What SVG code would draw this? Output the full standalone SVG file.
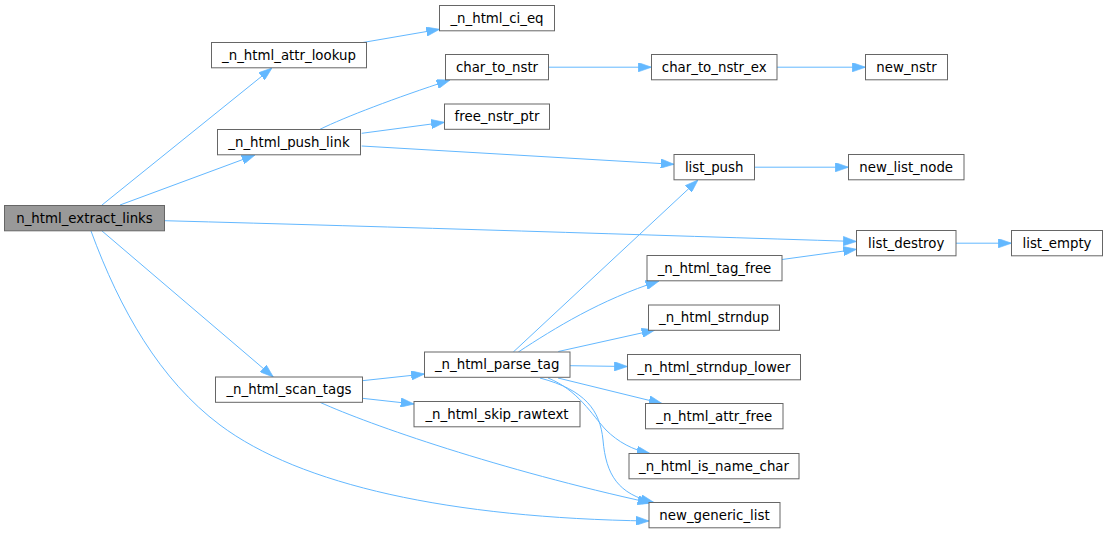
<svg xmlns="http://www.w3.org/2000/svg" width="1108" height="533" viewBox="0 0 1108 533">
<style>
.n rect{fill:#ffffff;stroke:#666666;stroke-width:1}
.n.main rect{fill:#999999}
.n text{font-family:"DejaVu Sans","Liberation Sans",sans-serif;font-size:13.33px;fill:#000000;text-anchor:middle}
.e path{fill:none;stroke:#63b8ff;stroke-width:1;marker-end:url(#arr)}
</style>
<defs>
<marker id="arr" viewBox="0 0 10 7" refX="10" refY="3.5" markerWidth="13.3" markerHeight="9.3" markerUnits="userSpaceOnUse" orient="auto">
<path d="M0,0 L10,3.5 L0,7 z" fill="#63b8ff" stroke="#63b8ff" stroke-width="0.5"/>
</marker>
</defs>
<rect width="1108" height="533" fill="#ffffff"/>
<g id="edges" class="e">
<path d="M102,205 L272,68"/>
<path d="M120,205 L255,155"/>
<path d="M164.3,220.7 C400,227 650,235 856.5,241.5"/>
<path d="M101.7,230.7 L273.3,377"/>
<path d="M91,231 C120,310 160,380 220,425 C300,485 450,518 649,521"/>
<path d="M361.7,42.7 L439.5,29.3"/>
<path d="M320,129.3 C345,117 395,98 450,80"/>
<path d="M361.7,133.3 L444.5,122.3"/>
<path d="M361.7,146 L674,164.3"/>
<path d="M548.5,67.2 L651.5,67.2"/>
<path d="M777,67.2 L865.5,67.2"/>
<path d="M754.5,167.2 L848.5,167.2"/>
<path d="M956,243.2 L1011.5,243.2"/>
<path d="M782,259.5 L856.5,249.3"/>
<path d="M362.3,380.7 L424.5,374"/>
<path d="M362.3,398.3 L414,404"/>
<path d="M320,402.3 C370,425 500,470 651,503"/>
<path d="M513.3,352 L698,180"/>
<path d="M518.3,352 C555,328 600,300 659,281"/>
<path d="M558.3,351.5 L655,330"/>
<path d="M570,365.7 L627.5,366.5"/>
<path d="M558,378 L662,403.5"/>
<path d="M548,378 C578,390 592,415 606,430 C618,442 633,450 650,453.5"/>
<path d="M540,378 C585,390 600,410 603,440 C606,475 618,494 654,502.5"/>
</g>
<g id="n_html_extract_links" class="n main"><rect x="4.5" y="205.5" width="160" height="25.3"/><text x="84.5" y="222.8">n_html_extract_links</text></g>
<g id="_n_html_attr_lookup" class="n"><rect x="211.5" y="42.5" width="155" height="25.3"/><text x="289" y="59.8">_n_html_attr_lookup</text></g>
<g id="_n_html_push_link" class="n"><rect x="217.5" y="129.5" width="143" height="25.3"/><text x="289" y="146.8">_n_html_push_link</text></g>
<g id="_n_html_scan_tags" class="n"><rect x="215.5" y="377" width="147" height="25.3"/><text x="289" y="394.3">_n_html_scan_tags</text></g>
<g id="_n_html_ci_eq" class="n"><rect x="439.5" y="5.5" width="115" height="25.3"/><text x="497" y="22.8">_n_html_ci_eq</text></g>
<g id="char_to_nstr" class="n"><rect x="445.5" y="54.5" width="103" height="25.3"/><text x="497" y="71.8">char_to_nstr</text></g>
<g id="free_nstr_ptr" class="n"><rect x="444.5" y="104" width="105" height="25.3"/><text x="497" y="121.3">free_nstr_ptr</text></g>
<g id="_n_html_parse_tag" class="n"><rect x="424.5" y="352" width="145.5" height="25.3"/><text x="497.2" y="369.3">_n_html_parse_tag</text></g>
<g id="_n_html_skip_rawtext" class="n"><rect x="414" y="401.5" width="166" height="25.3"/><text x="497" y="418.8">_n_html_skip_rawtext</text></g>
<g id="char_to_nstr_ex" class="n"><rect x="651.5" y="54.5" width="125.5" height="25.3"/><text x="714.2" y="71.8">char_to_nstr_ex</text></g>
<g id="list_push" class="n"><rect x="674" y="154.5" width="80.5" height="25.3"/><text x="714.2" y="171.8">list_push</text></g>
<g id="_n_html_tag_free" class="n"><rect x="647" y="255.5" width="135" height="25.3"/><text x="714.5" y="272.8">_n_html_tag_free</text></g>
<g id="_n_html_strndup" class="n"><rect x="648.5" y="305" width="131" height="25.3"/><text x="714" y="322.3">_n_html_strndup</text></g>
<g id="_n_html_strndup_lower" class="n"><rect x="627.5" y="354.5" width="173" height="25.3"/><text x="714" y="371.8">_n_html_strndup_lower</text></g>
<g id="_n_html_attr_free" class="n"><rect x="645.5" y="403.5" width="137.5" height="25.3"/><text x="714.2" y="420.8">_n_html_attr_free</text></g>
<g id="_n_html_is_name_char" class="n"><rect x="629" y="453.5" width="170" height="25.3"/><text x="714" y="470.8">_n_html_is_name_char</text></g>
<g id="new_generic_list" class="n"><rect x="649" y="502.5" width="131" height="25.3"/><text x="714.5" y="519.8">new_generic_list</text></g>
<g id="new_nstr" class="n"><rect x="865.5" y="54.5" width="82" height="25.3"/><text x="906.5" y="71.8">new_nstr</text></g>
<g id="new_list_node" class="n"><rect x="848.5" y="154.5" width="115.5" height="25.3"/><text x="906.2" y="171.8">new_list_node</text></g>
<g id="list_destroy" class="n"><rect x="856.5" y="230.5" width="99.5" height="25.3"/><text x="906.2" y="247.8">list_destroy</text></g>
<g id="list_empty" class="n"><rect x="1011.5" y="230.5" width="91" height="25.3"/><text x="1057" y="247.8">list_empty</text></g>
</svg>
